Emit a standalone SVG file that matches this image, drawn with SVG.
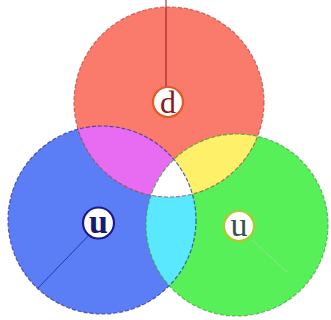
<svg xmlns="http://www.w3.org/2000/svg" width="331" height="320" viewBox="0 0 331 320">
  <defs>
    <clipPath id="cR"><circle cx="169" cy="102" r="95"/></clipPath>
    <clipPath id="cB"><circle cx="102" cy="220" r="94"/></clipPath>
    <clipPath id="cG"><circle cx="237" cy="225" r="91"/></clipPath>
  </defs>
  <style>
    .edge { fill: none; stroke-width: 1.2; stroke-dasharray: 4 2; stroke-opacity: 0.7; }
    .lbl { fill: #ffffff; stroke-width: 2.2; }
    .txt { font-family: "Liberation Serif", "DejaVu Serif", serif; text-anchor: middle; }
  </style>
  <rect width="331" height="320" fill="#ffffff"/>
  <g id="regions">
    <circle id="red" cx="169" cy="102" r="95" fill="#fa7b6b"/>
    <circle id="blue" cx="102" cy="220" r="94" fill="#5b7ef6"/>
    <circle id="green" cx="237" cy="225" r="91" fill="#58f058"/>
    <g clip-path="url(#cR)"><circle cx="102" cy="220" r="94" fill="#e86cf2"/></g>
    <g clip-path="url(#cR)"><circle cx="237" cy="225" r="91" fill="#fff06a"/></g>
    <g clip-path="url(#cB)"><circle cx="237" cy="225" r="91" fill="#5ae8ff"/></g>
    <g clip-path="url(#cR)"><g clip-path="url(#cB)"><circle cx="237" cy="225" r="91" fill="#ffffff"/></g></g>
  </g>
  <g id="outlines">
    <circle class="edge" cx="169" cy="102" r="95" stroke="#b0403a"/>
    <circle class="edge" cx="102" cy="220" r="94" stroke="#2a2a8a"/>
    <circle class="edge" cx="237" cy="225" r="91" stroke="#3a9a3a"/>
  </g>
  <g id="connectors">
    <line x1="166" y1="0" x2="166" y2="87" stroke="#8b1a1a" stroke-width="1"/>
    <line x1="92" y1="232" x2="38" y2="288" stroke="#2a3a9a" stroke-width="1"/>
    <line x1="252" y1="240" x2="287" y2="272" stroke="#8fe08f" stroke-width="1"/>
  </g>
  <g id="node-d">
    <circle class="lbl" cx="168" cy="102" r="15" stroke="#e05a2a"/>
    <text class="txt" x="168" y="113" font-size="32" fill="#8b1a1a">d</text>
  </g>
  <g id="node-u-blue">
    <circle class="lbl" cx="98.5" cy="223" r="15.5" stroke="#1a1a8a" stroke-width="2.6"/>
    <text class="txt" x="98.5" y="233" font-size="34" font-weight="bold" fill="#1a1a6a">u</text>
  </g>
  <g id="node-u-green">
    <circle class="lbl" cx="239" cy="226" r="15" stroke="#b0c830"/>
    <text class="txt" x="239" y="236" font-size="34" fill="#3a5050">u</text>
  </g>
</svg>
